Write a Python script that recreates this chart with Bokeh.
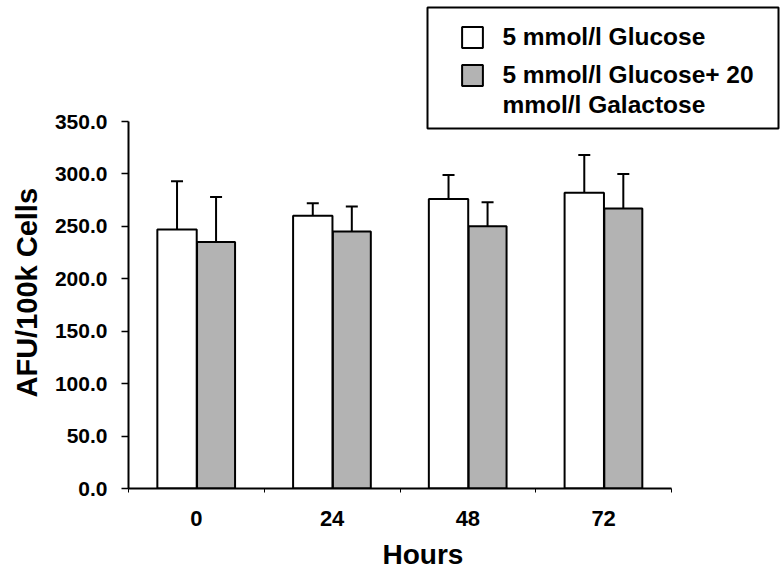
from bokeh.plotting import figure
from bokeh.models import (ColumnDataSource, Range1d, FixedTicker, NumeralTickFormatter,
                          Whisker, TeeHead, Legend, LegendItem, Title, BoxAnnotation)
from bokeh.transform import dodge
from bokeh.embed import file_html
from bokeh.resources import INLINE

# Time points (hours) and mean AFU per 100k cells with SD
hours = ["0", "24", "48", "72"]
glucose = [247, 260, 276, 282]
glucose_sd = [46, 12, 23, 36]
galactose = [235, 245, 250, 267]
galactose_sd = [43, 24, 23, 33]

label_glu = "5 mmol/l Glucose"
label_gal = ["5 mmol/l Glucose+ 20", "mmol/l Galactose"]

FONT = "Liberation Sans"
Y_MAX = 350

# The plotting frame also holds the legend (top right), so it reaches the
# canvas edges; the axes are bounded to the data part of the frame.
W, H = 783, 577
LEFT, BOTTOM = 128, 89
DATA_W, DATA_H = 543, 367          # pixel size of the 0..4 x 0..350 data area
x_end = len(hours) * (W - LEFT) / DATA_W
y_end = Y_MAX * (H - BOTTOM) / DATA_H
X_PX = DATA_W / len(hours)          # pixels per x unit
Y_PX = DATA_H / Y_MAX               # pixels per y unit


def px_to_x(px):
    return (px - LEFT) / X_PX


def px_to_y(py):
    return (H - BOTTOM - py) / Y_PX


xpos = [i + 0.5 for i in range(len(hours))]
src = ColumnDataSource(dict(
    x=xpos,
    glucose=glucose,
    glucose_hi=[m + s for m, s in zip(glucose, glucose_sd)],
    galactose=galactose,
    galactose_hi=[m + s for m, s in zip(galactose, galactose_sd)],
))

p = figure(width=W, height=H, output_backend="svg", toolbar_location=None,
           x_range=Range1d(0, x_end), y_range=Range1d(0, y_end),
           min_border_left=LEFT, min_border_right=0,
           min_border_top=0, min_border_bottom=BOTTOM)
p.outline_line_color = None
p.xgrid.visible = False
p.ygrid.visible = False

W_OFF, G_OFF = -0.1425, 0.145
r_gal = p.vbar(x=dodge("x", G_OFF, range=p.x_range), top="galactose", bottom=0, width=0.28,
               fill_color="#b3b3b3", line_color="black", line_width=2, source=src)
r_glu = p.vbar(x=dodge("x", W_OFF, range=p.x_range), top="glucose", bottom=0, width=0.29,
               fill_color="white", line_color="black", line_width=2, source=src)
# empty renderer: legend row that only continues the previous label
r_cont = p.vbar(x=[], top=[], width=0.1, fill_alpha=0, line_alpha=0)

for off, lo, hi in [(W_OFF, "glucose", "glucose_hi"), (G_OFF, "galactose", "galactose_hi")]:
    p.add_layout(Whisker(source=src, base=dodge("x", off, range=p.x_range), lower=lo, upper=hi,
                         line_width=2, line_color="black", lower_head=None,
                         upper_head=TeeHead(size=12, line_width=2, line_color="black")))

# y axis
ya = p.yaxis[0]
ya.bounds = (0, Y_MAX)
ya.ticker = FixedTicker(ticks=list(range(0, Y_MAX + 1, 50)))
ya.formatter = NumeralTickFormatter(format="0.0")
ya.axis_line_width = 2
ya.major_tick_out = 7
ya.major_tick_in = 0
ya.major_tick_line_width = 1.5
ya.minor_tick_line_color = None
ya.major_label_standoff = 14
ya.major_label_text_font_size = "21px"

# x axis: labels at category centres, small ticks at category boundaries
xa = p.xaxis[0]
xa.bounds = (0, len(hours))
xa.ticker = FixedTicker(ticks=xpos, minor_ticks=list(range(len(hours) + 1)))
xa.major_label_overrides = {x: h for x, h in zip(xpos, hours)}
xa.axis_line_width = 2
xa.major_tick_line_color = None
xa.minor_tick_out = 4
xa.minor_tick_in = 0
xa.minor_tick_line_width = 1
xa.major_label_standoff = 16
xa.major_label_text_font_size = "22px"

for ax in (xa, ya):
    ax.major_label_text_font = FONT
    ax.major_label_text_font_style = "bold"
    ax.major_label_text_color = "black"
    ax.axis_line_color = "black"

# axis titles
p.add_layout(Title(text="AFU/100k Cells", align="left", offset=91, standoff=17,
                   text_font=FONT, text_font_style="bold", text_font_size="29px",
                   text_color="black"), "left")
p.add_layout(Title(text="Hours", align="left", offset=254, standoff=16,
                   text_font=FONT, text_font_style="bold", text_font_size="28px",
                   text_color="black"), "below")

# legend frame
p.add_layout(BoxAnnotation(left=px_to_x(427), right=px_to_x(778),
                           top=px_to_y(7), bottom=px_to_y(128),
                           fill_color="white", fill_alpha=1,
                           line_color="black", line_width=2, line_alpha=1))


def make_legend(items, loc, spacing):
    lg = Legend(items=items, location=loc)
    lg.label_text_font = FONT
    lg.label_text_font_style = "bold"
    lg.label_text_font_size = "24.5px"
    lg.label_text_color = "black"
    lg.border_line_color = None
    lg.background_fill_alpha = 0
    lg.padding = 0
    lg.margin = 0
    lg.spacing = spacing
    lg.glyph_width = 26
    lg.glyph_height = 26
    lg.label_height = 30
    lg.label_standoff = 17
    return lg


LG_X = 459.4 - LEFT
p.add_layout(make_legend([LegendItem(label=label_glu, renderers=[r_glu])],
                         (LG_X, H - BOTTOM - 52.4), 0))
p.add_layout(make_legend([LegendItem(label=label_gal[0], renderers=[r_gal]),
                          LegendItem(label=label_gal[1], renderers=[r_cont])],
                         (LG_X, H - BOTTOM - 120.4), 0))

open("out.html", "w").write(file_html(p, INLINE))
